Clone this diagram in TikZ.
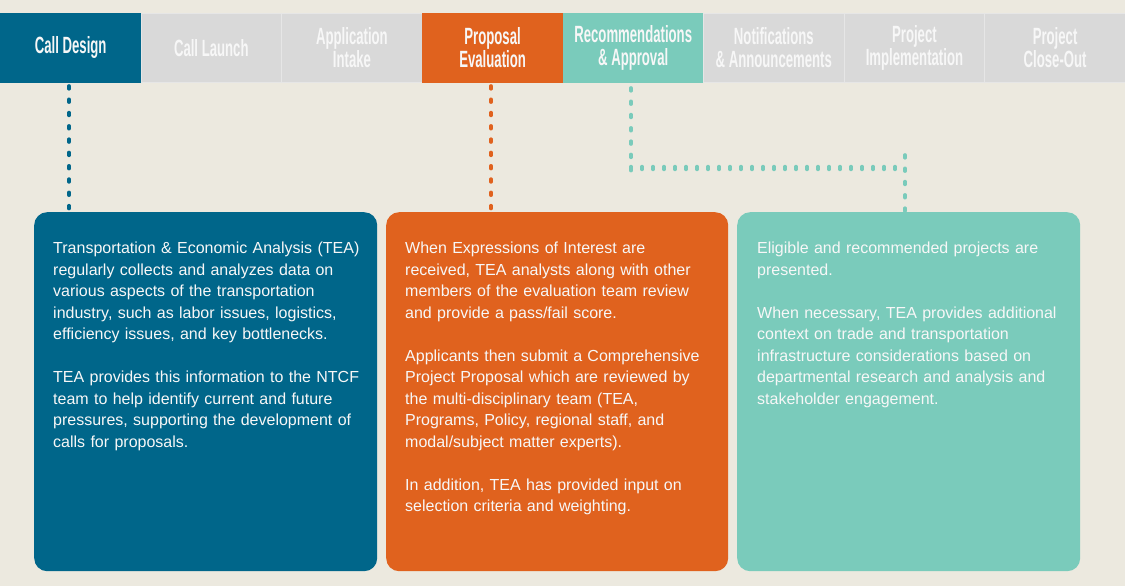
\documentclass[tikz,border=0pt]{standalone}
\usepackage{fontspec}
\usetikzlibrary{decorations.pathreplacing}
\setmainfont{Liberation Sans}
\newfontfamily\tabfont[FakeStretch=0.56]{Liberation Sans Bold}
\definecolor{bgc}{HTML}{ECE9DF}
\definecolor{cblue}{HTML}{00668A}
\definecolor{corange}{HTML}{E0621E}
\definecolor{cteal}{HTML}{7ACBBB}
\definecolor{cgrey}{HTML}{D9D9D9}
\definecolor{csep}{HTML}{E6E6E6}
\definecolor{ctxt}{HTML}{F7F7F7}
\tikzset{
  tab/.style={rectangle, draw=csep, line width=0.8pt, minimum width=140.6pt, minimum height=69pt, inner sep=0pt, anchor=north west,
    align=center, text=ctxt, font=\tabfont\fontsize{23.5}{23}\selectfont},
  greytab/.style={tab, fill=cgrey},
  infobox/.style={rectangle, rounded corners=13pt, anchor=north west, inner sep=0pt, draw=none},
  infotext/.style={anchor=north west, inner sep=0pt, text width=310pt, align=left, text=ctxt,
    font=\fontsize{16}{21.5}\selectfont},
  vdots/.style={line width=3.6pt, line cap=round, dash pattern=on 2.8pt off 10.5pt},
  hdots/.style={line width=3.4pt, line cap=round, decorate,
    decoration={ticks, segment length=11pt, amplitude=1.5pt}}
}
\begin{document}
\begin{tikzpicture}[x=1pt,y=-1pt]
\fill[bgc] (0,0) rectangle (1125,586);
\useasboundingbox (0,0) rectangle (1125,586);
% tabs
\node[tab, fill=cblue, draw=cblue] (t1) at (0,13) {Call Design};
\node[greytab] (t2) at (140.6,13) {Call Launch};
\node[greytab] (t3) at (281.25,13) {Application\\Intake};
\node[tab, fill=corange, draw=corange] (t4) at (421.9,13) {Proposal\\Evaluation};
\node[tab, fill=cteal, draw=cteal] (t5) at (562.5,13) {Recommendations\\\& Approval};
\node[greytab] (t6) at (703.1,13) {Notifications\\\& Announcements};
\node[greytab] (t7) at (843.75,13) {Project\\Implementation};
\node[greytab] (t8) at (984.4,13) {Project\\Close-Out};
% boxes
\node[infobox, fill=cblue, minimum width=343pt, minimum height=359pt] (b1) at (34,212) {};
\node[infobox, fill=corange, minimum width=342pt, minimum height=359pt] (b2) at (386,212) {};
\node[infobox, fill=cteal, minimum width=343pt, minimum height=359pt] (b3) at (737,212) {};
% connectors
\coordinate (d1) at (69,86);
\coordinate (d2) at (491,86);
\coordinate (d3) at (631,88);
\coordinate (d3b) at (631,168);
\coordinate (d3c) at (905,168);
\draw[vdots, cblue] (d1) -- (d1 |- b1.north);
\draw[vdots, corange] (d2) -- (d2 |- b2.north);
\draw[vdots, cteal] (d3) -- ([yshift=-6pt]d3b);
\draw[hdots, cteal] (d3b) -- ([xshift=0.5pt]d3c);
\draw[vdots, cteal] ([yshift=13pt]d3c) -- (d3c |- b3.north);
% texts
\node[infotext] (x1) at (53,242) {Transportation \& Economic Analysis (TEA)\\
regularly collects and analyzes data on\\
various aspects of the transportation\\
industry, such as labor issues, logistics,\\
efficiency issues, and key bottlenecks.\\[21.5pt]
TEA provides this information to the NTCF\\
team to help identify current and future\\
pressures, supporting the development of\\
calls for proposals.};
\node[infotext] (x2) at (405,242) {When Expressions of Interest are\\
received, TEA analysts along with other\\
members of the evaluation team review\\
and provide a pass/fail score.\\[21.5pt]
Applicants then submit a Comprehensive\\
Project Proposal which are reviewed by\\
the multi-disciplinary team (TEA,\\
Programs, Policy, regional staff, and\\
modal/subject matter experts).\\[21.5pt]
In addition, TEA has provided input on\\
selection criteria and weighting.};
\node[infotext] (x3) at (757,242) {Eligible and recommended projects are\\
presented.\\[21.5pt]
When necessary, TEA provides additional\\
context on trade and transportation\\
infrastructure considerations based on\\
departmental research and analysis and\\
stakeholder engagement.};
\end{tikzpicture}
\end{document}
